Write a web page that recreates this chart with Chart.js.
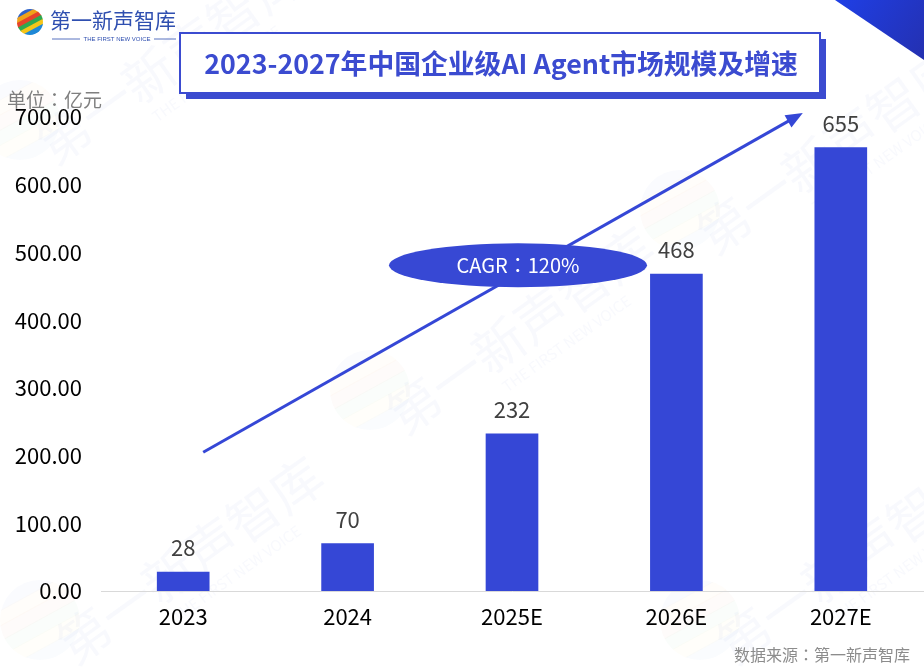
<!DOCTYPE html>
<html>
<head>
<meta charset="utf-8">
<script src="https://cdn.jsdelivr.net/npm/chart.js@4/dist/chart.umd.min.js"></script>
<style>
html,body{margin:0;padding:0;background:#fff;}
canvas{display:block;}
</style>
</head>
<body>
<canvas id="c" width="924" height="672"></canvas>
<script>
const categories = ['2023', '2024', '2025E', '2026E', '2027E'];
const marketSize = [28, 70, 232, 468, 655];
const yTickValues = [0, 100, 200, 300, 400, 500, 600, 700];
const titleText = '2023-2027年中国企业级AI Agent市场规模及增速';
const unitText = '单位：亿元';
const sourceText = '数据来源：第一新声智库';
const cagrText = 'CAGR：120%';
const brandText = '第一新声智库';
const brandSub = 'THE FIRST NEW VOICE';

const BLUE = '#3547D6';
const FONT = '"Noto Sans CJK SC", "Noto Sans", sans-serif';
const FONT_TC = '"Noto Sans CJK TC", "Noto Sans CJK SC", sans-serif';

function drawLogoIcon(ctx, cx, cy, r, alpha) {
  ctx.save();
  ctx.globalAlpha = alpha;
  ctx.beginPath();
  ctx.arc(cx, cy, r, 0, Math.PI * 2);
  ctx.clip();
  const cols = ['#2e62c9', '#f0a21a', '#e5432b', '#2fa84f', '#f5c518', '#1e88d6'];
  ctx.translate(cx, cy);
  ctx.rotate(-0.5);
  for (let i = 0; i < cols.length; i++) {
    ctx.fillStyle = cols[i];
    ctx.fillRect(-r - 2, -r + i * (2 * r / cols.length) - 1, 2 * r + 4, 2 * r / cols.length + 1);
  }
  ctx.restore();
}

const decor = {
  id: 'decor',
  beforeDraw(chart) {
    const ctx = chart.ctx;
    ctx.save();
    ctx.fillStyle = '#fff';
    ctx.fillRect(0, 0, chart.width, chart.height);
    // watermarks
    const marks = [[190, 560], [170, 60], [830, 150], [850, 560], [520, 330]];
    ctx.fillStyle = 'rgba(200,212,238,0.13)';
    marks.forEach(([x, y]) => {
      ctx.save();
      ctx.translate(x, y);
      ctx.rotate(-0.62);
      ctx.font = '52px ' + FONT;
      ctx.textAlign = 'center';
      ctx.textBaseline = 'middle';
      ctx.fillText(brandText, 0, 0);
      ctx.font = '15px ' + FONT;
      ctx.fillText(brandSub, 30, 38);
      ctx.restore();
      drawLogoIcon(ctx, x - 150, y + 60, 40, 0.025);
    });
    // top-right triangle
    const g = ctx.createLinearGradient(835, 0, 924, 60);
    g.addColorStop(0, '#1f3fe6');
    g.addColorStop(1, '#2430b0');
    ctx.fillStyle = g;
    ctx.beginPath();
    ctx.moveTo(835, 0);
    ctx.lineTo(924, 0);
    ctx.lineTo(924, 60);
    ctx.closePath();
    ctx.fill();
    ctx.restore();
  },
  afterDraw(chart) {
    const ctx = chart.ctx;
    const xs = chart.scales.x, ys = chart.scales.y;
    ctx.save();
    // logo
    drawLogoIcon(ctx, 30, 22, 13, 1);
    ctx.fillStyle = '#2f4fb0';
    ctx.font = '21px ' + FONT;
    ctx.textBaseline = 'middle';
    ctx.textAlign = 'left';
    ctx.fillText(brandText, 50, 20);
    ctx.font = '6px "Liberation Sans", sans-serif';
    ctx.textAlign = 'center';
    ctx.fillStyle = '#2f4fb0';
    ctx.fillText(brandSub, 117, 39);
    ctx.strokeStyle = '#2f4fb0';
    ctx.lineWidth = 0.8;
    ctx.beginPath();
    ctx.moveTo(52, 39); ctx.lineTo(80, 39);
    ctx.moveTo(154, 39); ctx.lineTo(176, 39);
    ctx.stroke();

    // title box
    ctx.fillStyle = '#3b4bd0';
    ctx.fillRect(186, 39, 640, 60);
    ctx.fillStyle = '#fff';
    ctx.fillRect(180, 33, 640, 60);
    ctx.strokeStyle = '#3b4bd0';
    ctx.lineWidth = 2;
    ctx.strokeRect(180, 33, 640, 60);
    let fs = 26;
    ctx.font = 'bold ' + fs + 'px ' + FONT;
    const w = ctx.measureText(titleText).width;
    fs = fs * 593 / w;
    ctx.font = 'bold ' + fs.toFixed(1) + 'px ' + FONT;
    ctx.fillStyle = '#3b4bd0';
    ctx.textAlign = 'center';
    ctx.textBaseline = 'middle';
    ctx.fillText(titleText, 501, 64);

    // unit
    ctx.font = '19px ' + FONT_TC;
    ctx.fillStyle = '#7f7f7f';
    ctx.textAlign = 'left';
    ctx.fillText(unitText, 7, 100);

    // source
    ctx.font = '16px ' + FONT_TC;
    ctx.fillStyle = '#8c8c8c';
    ctx.textAlign = 'right';
    ctx.fillText(sourceText, 910, 655);

    // data labels
    const meta = chart.getDatasetMeta(0);
    ctx.font = '22px ' + FONT;
    ctx.fillStyle = '#404040';
    ctx.textAlign = 'center';
    ctx.textBaseline = 'middle';
    meta.data.forEach((bar, i) => {
      ctx.fillText(String(marketSize[i]), bar.x, bar.y - 24);
    });

    // arrow
    const x0 = xs.getPixelForValue(0) + 20, y0 = ys.getPixelForValue(205);
    const x1 = xs.getPixelForValue(4) - 38, y1 = ys.getPixelForValue(706);
    const ang = Math.atan2(y1 - y0, x1 - x0);
    ctx.strokeStyle = BLUE;
    ctx.fillStyle = BLUE;
    ctx.lineWidth = 3;
    ctx.beginPath();
    ctx.moveTo(x0, y0);
    ctx.lineTo(x1 - 12 * Math.cos(ang), y1 - 12 * Math.sin(ang));
    ctx.stroke();
    ctx.beginPath();
    ctx.moveTo(x1, y1);
    ctx.lineTo(x1 - 17 * Math.cos(ang) + 7 * Math.sin(ang), y1 - 17 * Math.sin(ang) - 7 * Math.cos(ang));
    ctx.lineTo(x1 - 17 * Math.cos(ang) - 7 * Math.sin(ang), y1 - 17 * Math.sin(ang) + 7 * Math.cos(ang));
    ctx.closePath();
    ctx.fill();

    // CAGR ellipse
    const ex = xs.getPixelForValue(2) + 6, ey = ys.getPixelForValue(481);
    ctx.fillStyle = '#3748d4';
    ctx.beginPath();
    ctx.ellipse(ex, ey, 129, 22, 0, 0, Math.PI * 2);
    ctx.fill();
    ctx.fillStyle = '#fff';
    ctx.font = '20px ' + FONT_TC;
    ctx.fillText(cagrText, ex, ey);
    ctx.restore();
  }
};

new Chart(document.getElementById('c'), {
  type: 'bar',
  data: {
    labels: categories,
    datasets: [{
      data: marketSize,
      backgroundColor: BLUE,
      barThickness: 52
    }]
  },
  options: {
    responsive: false,
    animation: false,
    devicePixelRatio: 1,
    layout: { padding: { top: 117, right: 1, left: 0, bottom: 0 } },
    plugins: { legend: { display: false }, tooltip: { enabled: false }, title: { display: false } },
    scales: {
      y: {
        min: 0, max: 700,
        afterBuildTicks: s => { s.ticks = yTickValues.map(v => ({ value: v })); },
        afterFit: s => { s.width = 101; },
        grid: { display: false, drawTicks: false },
        border: { display: false },
        ticks: {
          padding: 19,
          color: '#000',
          font: { size: 22, family: FONT },
          callback: v => Number(v).toFixed(2)
        }
      },
      x: {
        afterFit: s => { s.height = 81; },
        grid: { display: false, drawTicks: false },
        border: { display: true, color: '#d9d9d9', width: 1 },
        ticks: {
          padding: 12,
          color: '#000',
          font: { size: 22, family: FONT }
        }
      }
    }
  },
  plugins: [decor]
});
</script>
</body>
</html>
